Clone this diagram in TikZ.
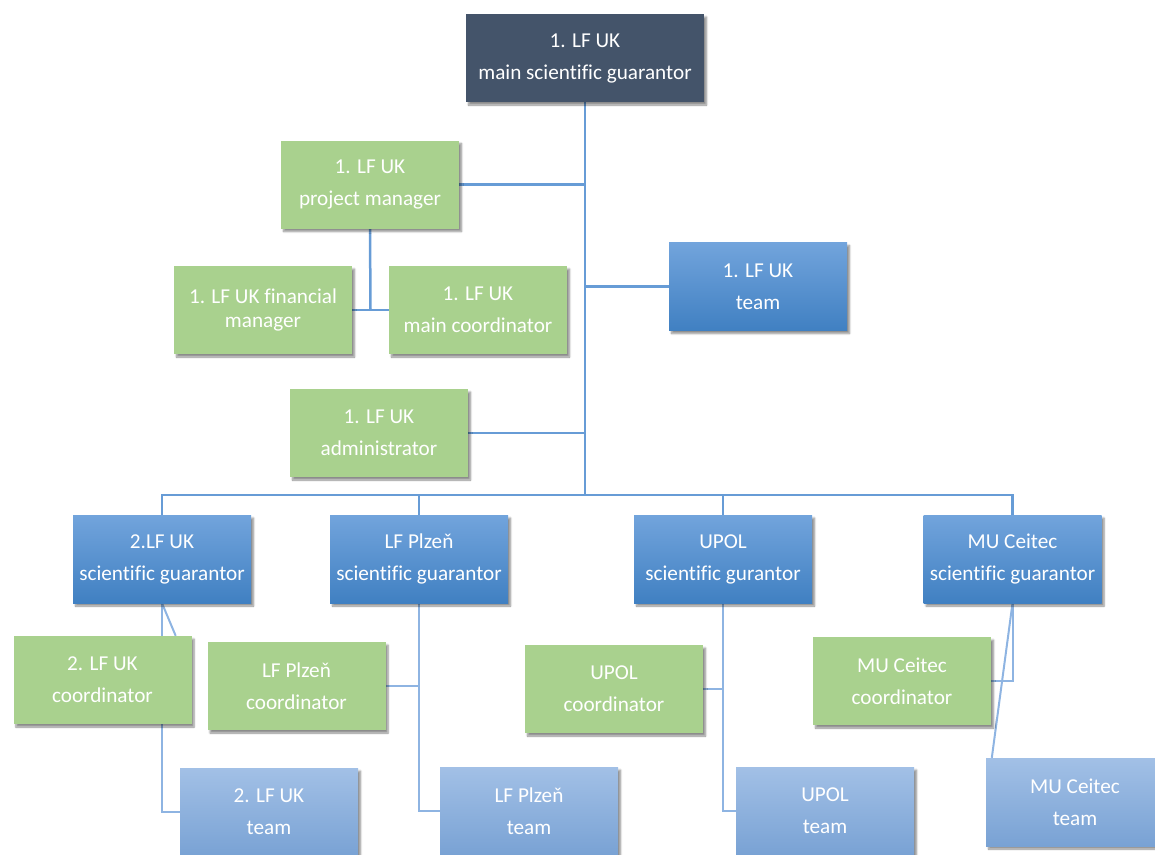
\documentclass[tikz,border=0pt]{standalone}
\usepackage{fontspec}
\setmainfont{Carlito}[Ligatures=NoCommon]
\usepackage{tikz}
\usetikzlibrary{shadows.blur,backgrounds,calc}
\definecolor{headgray}{HTML}{44546A}
\definecolor{leafgreen}{HTML}{A9D18E}
\definecolor{bluetop}{HTML}{72A4DC}
\definecolor{bluebot}{HTML}{4080C2}
\definecolor{paletop}{HTML}{A2C0E6}
\definecolor{palebot}{HTML}{79A2D4}
\definecolor{linkblue}{HTML}{679CD6}
\definecolor{linkpale}{HTML}{8EB4E2}
\tikzset{
	box/.style={minimum width=178pt, minimum height=88pt, inner sep=0pt, align=center, text=white,
		font=\fontsize{21.2}{32}\selectfont,
		blur shadow={shadow xshift=2.5pt, shadow yshift=-3pt, shadow blur steps=6, shadow opacity=45}},
	headbox/.style={box, fill=headgray, minimum width=238pt},
	greenbox/.style={box, fill=leafgreen},
	bluebox/.style={box, top color=bluetop, bottom color=bluebot},
	palebox/.style={box, top color=paletop, bottom color=palebot},
	link/.style={color=linkblue, line width=2.5pt},
	sublink/.style={color=linkpale, line width=2pt}
}
\begin{document}
\begin{tikzpicture}[x=1pt,y=-1pt]
		\useasboundingbox (0,0) rectangle (1155,854);
		\clip (0,0) rectangle (1155,854);
		\node[headbox] (head) at (585,58) {1. LF UK\\main scientific guarantor};
		\node[greenbox] (pm) at (370,184.5) {1. LF UK\\project manager};
		\node[greenbox, font=\fontsize{21.2}{24}\selectfont] (fin) at (263,310) {1. LF UK financial\\manager};
		\node[greenbox] (mainco) at (478,310) {1. LF UK\\main coordinator};
		\node[bluebox] (team1) at (758,286.5) {1. LF UK\\team};
		\node[greenbox] (adm) at (379,433) {1. LF UK\\administrator};
		\node[bluebox] (gar2) at (162,559) {2.LF UK\\scientific guarantor};
		\node[bluebox] (garpl) at (419,559) {LF Plzeň\\scientific guarantor};
		\node[bluebox] (garup) at (723,559) {UPOL\\scientific gurantor};
		\node[bluebox] (garmu) at (1012.5,559) {MU Ceitec\\scientific guarantor};
		\node[greenbox] (co2) at (102.5,680) {2. LF UK\\coordinator};
		\node[greenbox] (copl) at (296.5,686) {LF Plzeň\\coordinator};
		\node[greenbox] (coup) at (614,689) {UPOL\\coordinator};
		\node[greenbox] (comu) at (902,681) {MU Ceitec\\coordinator};
		\node[palebox] (team2) at (269,812) {2. LF UK\\team};
		\node[palebox] (teampl) at (529,811) {LF Plzeň\\team};
		\node[palebox] (teamup) at (825,811) {UPOL\\team};
		\node[palebox] (teammu) at (1075,802) {MU Ceitec\\team};
		\coordinate (bus) at (585,495);

		\begin{scope}[on background layer]
		\draw[link] (head.south) -- (bus);
		\draw[link] (pm.east) -- (pm.east -| head.south);
		\draw[link] (team1.west) -- (team1.west -| head.south);
		\draw[link] (adm.east) -- (adm.east -| head.south);
		\draw[link] (pm.south) -- ($(fin.east)!.5!(mainco.west)$);
		\draw[link] (fin.east) -- (mainco.west);
		\draw[link] (gar2.north) |- (bus) -| (garmu.north);
		\draw[link] (garpl.north) -- (garpl.north |- bus);
		\draw[link] (garup.north) -- (garup.north |- bus);
		\draw[sublink] (gar2.south) |- (team2.west);
		\draw[sublink] (gar2.south) -- ($(co2.north east)+(-16,0)$);
		\draw[sublink] (garpl.south) |- (teampl.west);
		\draw[sublink] (copl.east) -- (copl.east -| garpl.south);
		\draw[sublink] (garup.south) |- (teamup.west);
		\draw[sublink] (coup.east) -- (coup.east -| garup.south);
		\draw[sublink] (garmu.south) |- (comu.east);
		\draw[sublink] (garmu.south) -- ($(teammu.north west)+(6,0)$);
		\end{scope}
	\end{tikzpicture}
\end{document}
